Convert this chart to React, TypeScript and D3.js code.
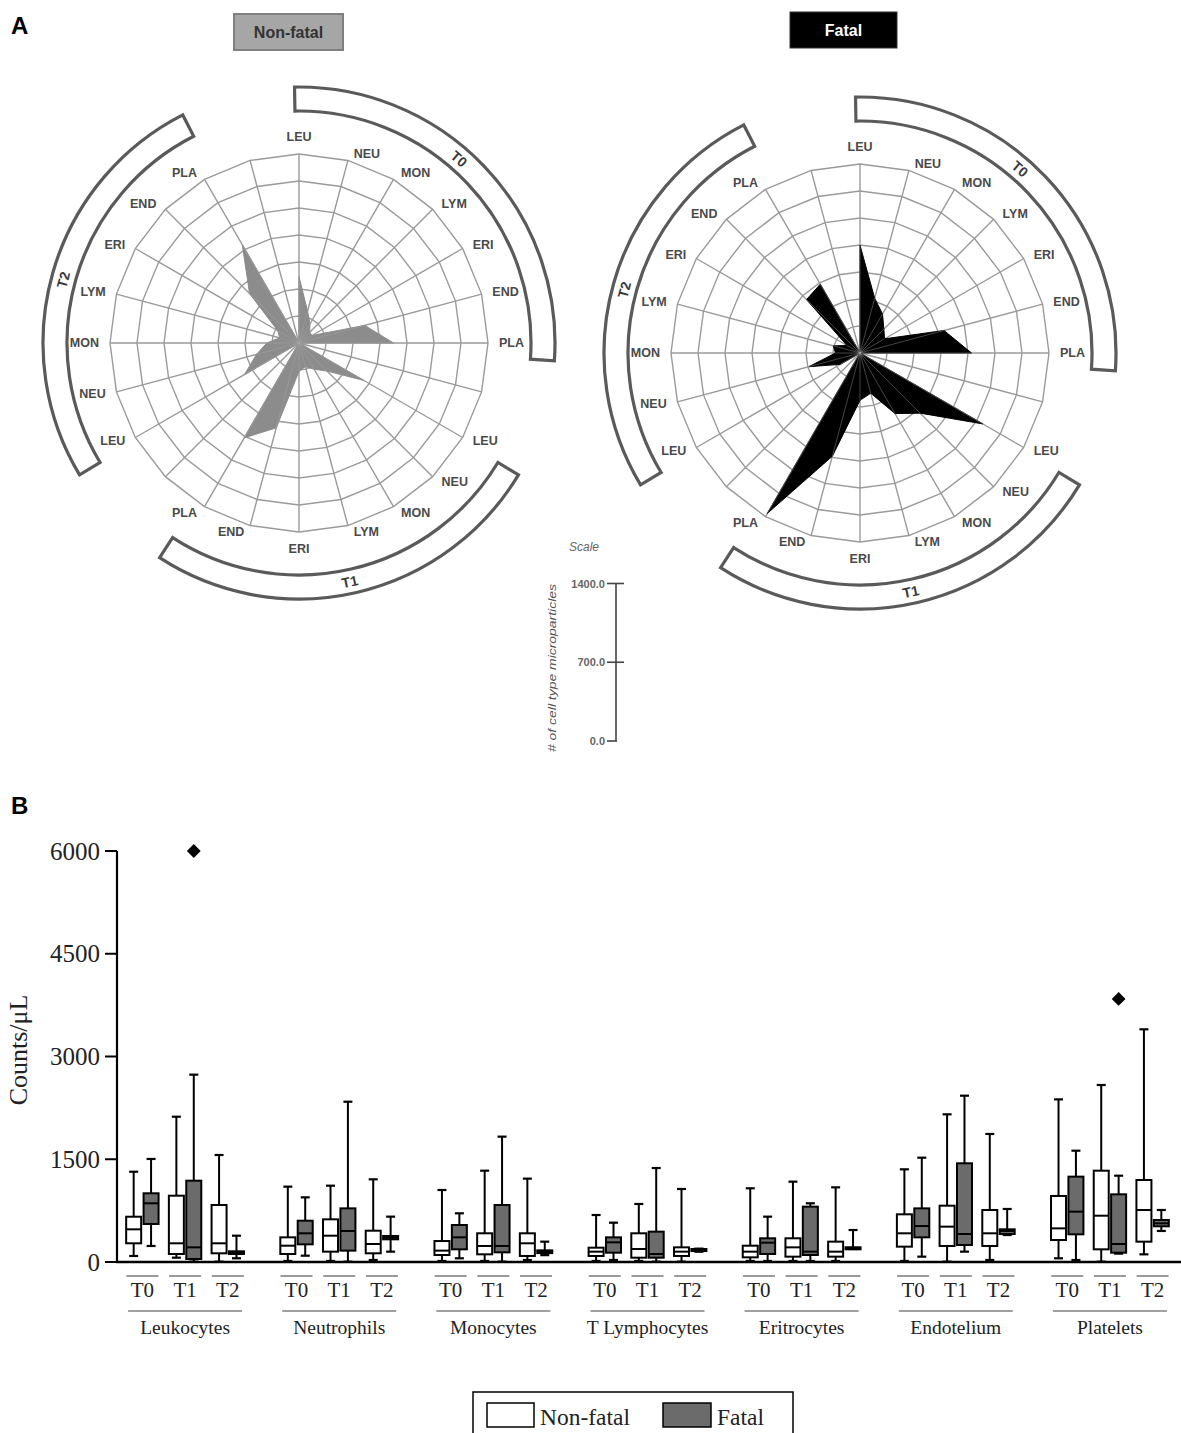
import React from 'react';
import * as d3 from 'd3';

// ---------- Panel A: radar data ----------
const radarCategories = ['LEU', 'NEU', 'MON', 'LYM', 'ERI', 'END', 'PLA'];
const radarTimes = ['T0', 'T1', 'T2'];
// 24 spokes: 7 cell types per time point followed by one blank spoke
const nonFatalRadar = [588, 294, 195, 134, 134, 605, 840, 0, 665, 353, 269, 218, 252, 781, 974, 0, 559, 391, 286, 178, 218, 622, 1008, 0];
const fatalRadar = [958, 504, 400, 300, 252, 773, 991, 0, 1260, 756, 622, 370, 420, 949, 1646, 0, 202, 470, 218, 245, 134, 672, 706, 0];
const radarMax = 1680;
const radarRings = [240, 480, 720, 960, 1200, 1440, 1680];
const scaleTicks = [0, 700, 1400];

// ---------- Panel B: box plot data ----------
const cellTypes = ['Leukocytes', 'Neutrophils', 'Monocytes', 'T Lymphocytes', 'Eritrocytes', 'Endotelium', 'Platelets'];
const timePoints = ['T0', 'T1', 'T2'];
const yTicks = [0, 1500, 3000, 4500, 6000];
// order: cell type major, time point minor
const nfHigh = [1318, 2121, 1562, 1100, 1114, 1207, 1051, 1333, 1217, 686, 847, 1066, 1076, 1173, 1090, 1353, 2156, 1869, 2374, 2584, 3397];
const nfQ3 = [661, 968, 832, 360, 623, 457, 306, 419, 419, 209, 419, 214, 238, 346, 297, 696, 822, 759, 964, 1333, 1197];
const nfMedian = [477, 273, 273, 238, 384, 263, 166, 234, 273, 151, 190, 151, 151, 214, 151, 419, 516, 419, 491, 676, 759];
const nfQ1 = [273, 117, 127, 117, 151, 127, 102, 112, 88, 88, 63, 88, 68, 78, 78, 224, 234, 234, 321, 185, 297];
const nfLow = [88, 63, 5, 15, 15, 29, 15, 15, 29, 15, 15, 5, 15, 15, 15, 15, 5, 29, 54, 5, 112];
const fHigh = [1504, 2735, 384, 944, 2340, 662, 711, 1830, 297, 574, 1372, 195, 662, 857, 467, 1523, 2428, 774, 1625, 1260, 759];
const fQ3 = [1003, 1187, 156, 603, 783, 380, 540, 832, 170, 360, 443, 190, 346, 808, 215, 783, 1441, 477, 1246, 988, 613];
const fMedian = [857, 214, 136, 419, 453, 355, 360, 234, 151, 287, 117, 175, 282, 151, 200, 525, 409, 453, 735, 263, 565];
const fQ1 = [555, 44, 117, 258, 166, 331, 185, 141, 130, 136, 63, 160, 117, 102, 185, 360, 248, 409, 404, 136, 521];
const fLow = [234, 5, 54, 92, 5, 151, 54, 5, 100, 29, 5, 150, 15, 15, 190, 78, 151, 394, 29, 122, 453];
const outlierCells = ['Leukocytes', 'Platelets'];
const outlierTimes = ['T1', 'T1'];
const outlierValues = [6000, 3840];

const SANS = '"Liberation Sans", Arial, sans-serif';
const SERIF = '"Liberation Serif", "Times New Roman", serif';

const rScale = d3.scaleLinear().domain([0, radarMax]).range([0, 189]);
const N = 24;
const spokeLabels = radarTimes.flatMap(() => [...radarCategories, '']);

function Radar({ cx, cy, values, fill }: { cx: number; cy: number; values: number[]; fill: string }) {
  const ang = (i: number) => (i * 2 * Math.PI) / N;
  const ringPath = (v: number) =>
    d3.lineRadial<number>().angle((_, i) => ang(i)).radius(() => rScale(v)).curve(d3.curveLinearClosed)(d3.range(N)) || '';
  const poly = d3.lineRadial<number>().angle((_, i) => ang(i)).radius((d) => rScale(d)).curve(d3.curveLinearClosed)(values) || '';
  const bandStart = [-1, 121, 239];
  const bandEnd = [94, 213, 333];
  const labelAngle = [41, 168, 285];
  const arc = d3.arc<any>().innerRadius(232).outerRadius(256);
  const R0 = 196;
  return (
    <g transform={`translate(${cx},${cy})`}>
      {radarTimes.map((t, k) => {
        const a0 = (bandStart[k] * Math.PI) / 180;
        const a1 = (bandEnd[k] * Math.PI) / 180;
        const mid = labelAngle[k];
        const m = (mid * Math.PI) / 180;
        let rot = mid;
        if (mid > 90 && mid < 270) rot = mid - 180;
        if (mid >= 270) rot = mid - 360;
        const tx = 244 * Math.sin(m);
        const ty = -244 * Math.cos(m);
        return (
          <g key={t}>
            <path d={arc({ startAngle: a0, endAngle: a1 }) || ''} fill="#fff" stroke="#5a5a5a" strokeWidth={3.2} />
            <text x={tx} y={ty} transform={`rotate(${rot},${tx},${ty})`}
              textAnchor="middle" dominantBaseline="central" fontFamily={SANS} fontWeight="bold" fontSize={14} fill="#3a3a3a">{t}</text>
          </g>
        );
      })}
      {radarRings.map((v) => (
        <path key={v} d={ringPath(v)} fill="none" stroke="#9a9a9a" strokeWidth={1.4} />
      ))}
      {d3.range(N).map((i) => (
        <line key={i} x1={0} y1={0} x2={rScale(radarMax) * Math.sin(ang(i))} y2={-rScale(radarMax) * Math.cos(ang(i))} stroke="#9a9a9a" strokeWidth={1.4} />
      ))}
      <path d={poly} fill={fill} stroke={fill} strokeWidth={1} />
      {d3.range(N).map((i) => (
        <line key={'s' + i} x1={0} y1={0} x2={rScale(values[i]) * Math.sin(ang(i))} y2={-rScale(values[i]) * Math.cos(ang(i))} stroke="#aaa" strokeOpacity={0.5} strokeWidth={0.8} />
      ))}
      {spokeLabels.map((lab, i) => {
        if (!lab) return null;
        const s = Math.sin(ang(i));
        const c = Math.cos(ang(i));
        const anchor = s > 0.05 ? 'start' : s < -0.05 ? 'end' : 'middle';
        const x = R0 * s + (s > 0.05 ? 4 : s < -0.05 ? -4 : 0);
        const y = -R0 * c - (Math.abs(s) < 0.05 ? 10 * c : 0);
        return (
          <text key={'l' + i} x={x} y={y} textAnchor={anchor} dominantBaseline="central" fontFamily={SANS} fontWeight="bold" fontSize={12.5} fill="#4a4a4a">{lab}</text>
        );
      })}
    </g>
  );
}

export default function App() {
  React.useEffect(() => {
    document.body.style.margin = '0';
  }, []);

  // Scale bar
  const sbY = (v: number) => 741 - rScale(v);

  // Box plot scales
  const y = d3.scaleLinear().domain([0, 6000]).range([1262, 851]);
  const xGroup = d3.scaleBand<string>().domain(cellTypes).range([108, 1187]).padding(0);
  const gw = xGroup.bandwidth();
  const xTime = d3.scaleBand<string>().domain(timePoints).range([0, 128.1]).padding(0);
  const slotCenter = (c: string, t: string) => (xGroup(c) as number) + (gw - 128.1) / 2 + (xTime(t) as number) + xTime.bandwidth() / 2;
  const off = 8.7;
  const bw = 15;

  const boxes: any[] = [];
  cellTypes.forEach((c, ci) => {
    timePoints.forEach((t, ti) => {
      const idx = ci * 3 + ti;
      const sc = slotCenter(c, t);
      boxes.push({ key: `nf-${idx}`, x: sc - off, hi: nfHigh[idx], q3: nfQ3[idx], med: nfMedian[idx], q1: nfQ1[idx], lo: nfLow[idx], fill: '#fff' });
      boxes.push({ key: `f-${idx}`, x: sc + off, hi: fHigh[idx], q3: fQ3[idx], med: fMedian[idx], q1: fQ1[idx], lo: fLow[idx], fill: '#6b6b6b' });
    });
  });
  const diamond = d3.symbol().type(d3.symbolSquare).size(95)() || '';

  return (
    <svg width={1181} height={1433} style={{ position: 'absolute', left: 0, top: 0, background: '#fff' }}>
      <rect x={0} y={0} width={1181} height={1433} fill="#fff" />
      {/* Panel A */}
      <text x={11} y={34} fontFamily={SANS} fontWeight="bold" fontSize={24} fill="#000">A</text>
      <rect x={234} y={14} width={109} height={36} fill="#a6a6a6" stroke="#7f7f7f" strokeWidth={2} />
      <text x={288.5} y={32} textAnchor="middle" dominantBaseline="central" fontFamily={SANS} fontWeight="bold" fontSize={16} fill="#333">Non-fatal</text>
      <rect x={790} y={12} width={107} height={36} fill="#000" stroke="#333" strokeWidth={1} />
      <text x={843.5} y={30} textAnchor="middle" dominantBaseline="central" fontFamily={SANS} fontWeight="bold" fontSize={16} fill="#fff">Fatal</text>

      <Radar cx={299} cy={343} values={nonFatalRadar} fill="#8c8c8c" />
      <Radar cx={860} cy={353} values={fatalRadar} fill="#000" />

      {/* Scale bar */}
      <text x={584} y={547} textAnchor="middle" dominantBaseline="central" fontFamily={SANS} fontStyle="italic" fontSize={12} fill="#666">Scale</text>
      <line x1={616} x2={616} y1={sbY(1400)} y2={sbY(0)} stroke="#444" strokeWidth={1.6} />
      {scaleTicks.map((v) => (
        <g key={v}>
          <line x1={v === 0 ? 607 : 607} x2={v === 0 ? 617 : 624} y1={sbY(v)} y2={sbY(v)} stroke="#444" strokeWidth={1.6} />
          <text x={605} y={sbY(v)} textAnchor="end" dominantBaseline="central" fontFamily={SANS} fontWeight="bold" fontSize={11} fill="#666">{v.toFixed(1)}</text>
        </g>
      ))}
      <text x={552} y={668} transform="rotate(-90,552,668)" textAnchor="middle" dominantBaseline="central" fontFamily={SANS} fontStyle="italic" fontSize={10} textLength={168} lengthAdjust="spacingAndGlyphs" fill="#555"># of cell type microparticles</text>

      {/* Panel B */}
      <text x={11} y={814} fontFamily={SANS} fontWeight="bold" fontSize={24} fill="#000">B</text>
      <text x={18} y={1050} transform="rotate(-90,18,1050)" textAnchor="middle" dominantBaseline="central" fontFamily={SERIF} fontSize={26} fill="#222">Counts/μL</text>
      {yTicks.map((v) => (
        <g key={v}>
          <line x1={105} x2={117} y1={y(v)} y2={y(v)} stroke="#000" strokeWidth={2} />
          <text x={100} y={y(v)} textAnchor="end" dominantBaseline="central" fontFamily={SERIF} fontSize={25} fill="#222">{v}</text>
        </g>
      ))}
      <line x1={117} x2={117} y1={y(6000)} y2={y(0)} stroke="#000" strokeWidth={2.2} />
      <line x1={116} x2={1181} y1={y(0)} y2={y(0)} stroke="#000" strokeWidth={2.5} />

      {boxes.map((b) => (
        <g key={b.key}>
          <line x1={b.x} x2={b.x} y1={y(b.hi)} y2={y(b.lo)} stroke="#000" strokeWidth={2} />
          <line x1={b.x - 4.5} x2={b.x + 4.5} y1={y(b.hi)} y2={y(b.hi)} stroke="#000" strokeWidth={2.2} />
          <line x1={b.x - 4.5} x2={b.x + 4.5} y1={y(b.lo)} y2={y(b.lo)} stroke="#000" strokeWidth={2.2} />
          <rect x={b.x - bw / 2} y={y(b.q3)} width={bw} height={Math.max(0.5, y(b.q1) - y(b.q3))} fill={b.fill} stroke="#000" strokeWidth={2} />
          <line x1={b.x - bw / 2} x2={b.x + bw / 2} y1={y(b.med)} y2={y(b.med)} stroke="#000" strokeWidth={2} />
        </g>
      ))}
      {outlierValues.map((v, i) => (
        <path key={i} d={diamond} transform={`translate(${slotCenter(outlierCells[i], outlierTimes[i]) + off},${y(v)}) rotate(45)`} fill="#000" />
      ))}

      {cellTypes.map((c) => {
        const gc = (xGroup(c) as number) + gw / 2;
        return (
          <g key={c}>
            {timePoints.map((t) => {
              const sc = slotCenter(c, t);
              return (
                <g key={t}>
                  <line x1={sc - 16} x2={sc + 16} y1={1276} y2={1276} stroke="#9a9a9a" strokeWidth={2} />
                  <text x={sc} y={1297} textAnchor="middle" fontFamily={SERIF} fontSize={21} fill="#222">{t}</text>
                </g>
              );
            })}
            <line x1={gc - 57} x2={gc + 57} y1={1311} y2={1311} stroke="#a0a0a0" strokeWidth={2} />
            <text x={gc} y={1334} textAnchor="middle" fontFamily={SERIF} fontSize={19.5} fill="#222">{c}</text>
          </g>
        );
      })}

      {/* Legend */}
      <rect x={473} y={1392} width={320} height={50} fill="#fff" stroke="#000" strokeWidth={1.5} />
      <rect x={487} y={1403} width={47} height={24} fill="#fff" stroke="#000" strokeWidth={1.5} />
      <text x={540} y={1425} fontFamily={SERIF} fontSize={23.5} fill="#222">Non-fatal</text>
      <rect x={663} y={1403} width={48} height={24} fill="#6b6b6b" stroke="#000" strokeWidth={1.5} />
      <text x={717} y={1425} fontFamily={SERIF} fontSize={23.5} fill="#222">Fatal</text>
    </svg>
  );
}
